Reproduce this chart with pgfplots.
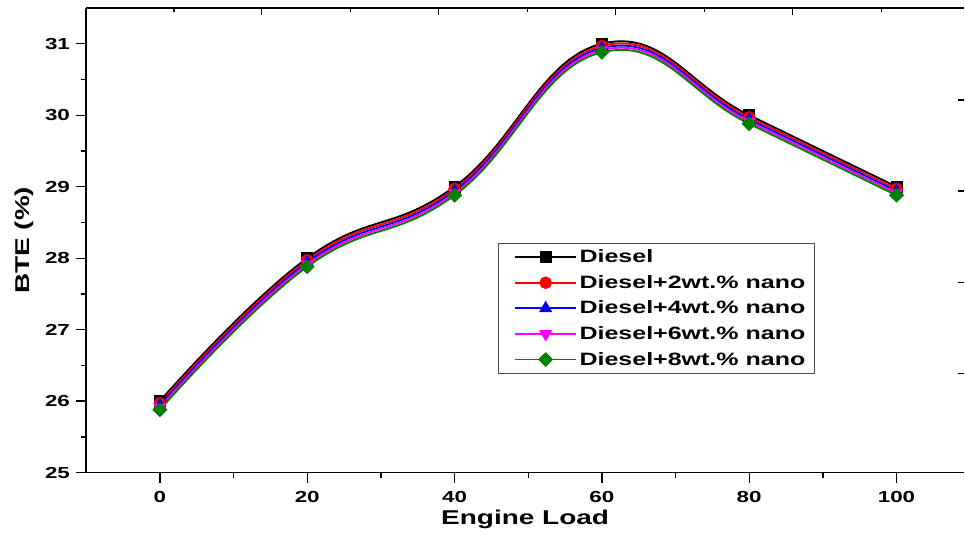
\documentclass[border=0pt]{standalone}
\usepackage{pgfplots}
\pgfplotsset{compat=1.18}
\usepackage{fontspec}
\setmainfont{Liberation Sans}[FakeStretch=1.4]
\usetikzlibrary{calc}
\definecolor{Grn}{RGB}{0,128,0}
\definecolor{Mag}{RGB}{255,0,255}

\begin{document}
\begin{tikzpicture}
\begin{axis}[
    name=main,
    scale only axis,
    width=659.25pt, height=348.75pt,
    xmin=-10.04, xmax=109.2,
    ymin=25, ymax=31.5,
    xtick={0,20,...,100},
    minor x tick num=1,
    ytick={25,...,31},
    minor y tick num=1,
    axis x line=bottom, axis y line=left,
    axis line style={-, line width=1.1pt},
    tick align=outside,
    major tick length=7.5pt, minor tick length=4pt,
    every tick/.style={black, line width=1pt},
    /pgf/number format/assume math mode=true,
    tick label style={font=\bfseries\fontsize{12}{14}\selectfont},
    xticklabel style={yshift=-3pt},
    yticklabel style={xshift=-1pt},
    xlabel={Engine Load},
    ylabel={BTE (\%)},
    label style={font=\bfseries\fontsize{15}{17}\selectfont},
    xlabel style={yshift=1pt},
    ylabel style={yshift=2pt},
    legend style={at={(0.469,0.495)}, anchor=north west, draw=black!70, line width=0.6pt,
                  font=\bfseries\fontsize{13.4}{15}\selectfont,
                  row sep=4pt, inner xsep=5pt, inner ysep=3pt, legend cell align=left},
    legend style={/tikz/every even column/.append style={column sep=5pt}},
    legend image code/.code={\path (0cm,0cm); \draw[mark repeat=2, mark phase=2, #1] plot coordinates {(0.25cm,0cm) (1.05cm,0cm) (1.85cm,0cm)};},
    every axis plot/.append style={line width=1.4pt, smooth, tension=0.75},
]
\addplot[black, mark=square*, mark size=3.8pt, mark options={solid}]
    coordinates {(0,26.00) (20,28.00) (40,29.00) (60,31.00) (80,30.00) (100,29.00)};
\addplot[red, mark=*, mark size=4pt, mark options={solid}]
    coordinates {(0,25.97) (20,27.97) (40,28.97) (60,30.97) (80,29.97) (100,28.97)};
\addplot[blue, mark=triangle*, mark size=4.4pt, mark options={solid}]
    coordinates {(0,25.94) (20,27.94) (40,28.94) (60,30.94) (80,29.94) (100,28.94)};
\addplot[Mag, mark=triangle*, mark size=4.4pt, mark options={solid, rotate=180}]
    coordinates {(0,25.91) (20,27.91) (40,28.91) (60,30.91) (80,29.91) (100,28.91)};
\addplot[Grn, mark=diamond*, mark size=4.6pt, mark options={solid, xscale=1.35}]
    coordinates {(0,25.88) (20,27.88) (40,28.88) (60,30.88) (80,29.88) (100,28.88)};
\legend{Diesel, Diesel+2wt.\% nano, Diesel+4wt.\% nano, Diesel+6wt.\% nano, Diesel+8wt.\% nano}
\end{axis}
% frame top and right ticks (pixel units of the original layout)
\begin{scope}[overlay]
\begin{axis}[
    scale only axis,
    width=659.25pt, height=348.75pt,
    xmin=86, xmax=965, ymin=8, ymax=473, y dir=reverse,
    axis x line=top, axis y line=right,
    axis line style={-},
    x axis line style={line width=1.1pt},
    y axis line style={draw=none},
    tick align=inside,
    xtick={262,439,616,793}, minor xtick={174,351,528,705,882},
    ytick={100,191,283,374},
    xticklabels={}, yticklabels={},
    major tick length=5pt, minor tick length=3pt,
    every tick/.style={black, line width=1pt},
]
\end{axis}
\end{scope}
\path ($(main.south west)+(-64.5pt,-43.5pt)$) rectangle ($(main.north east)+(0,6pt)$);
\end{tikzpicture}
\end{document}
